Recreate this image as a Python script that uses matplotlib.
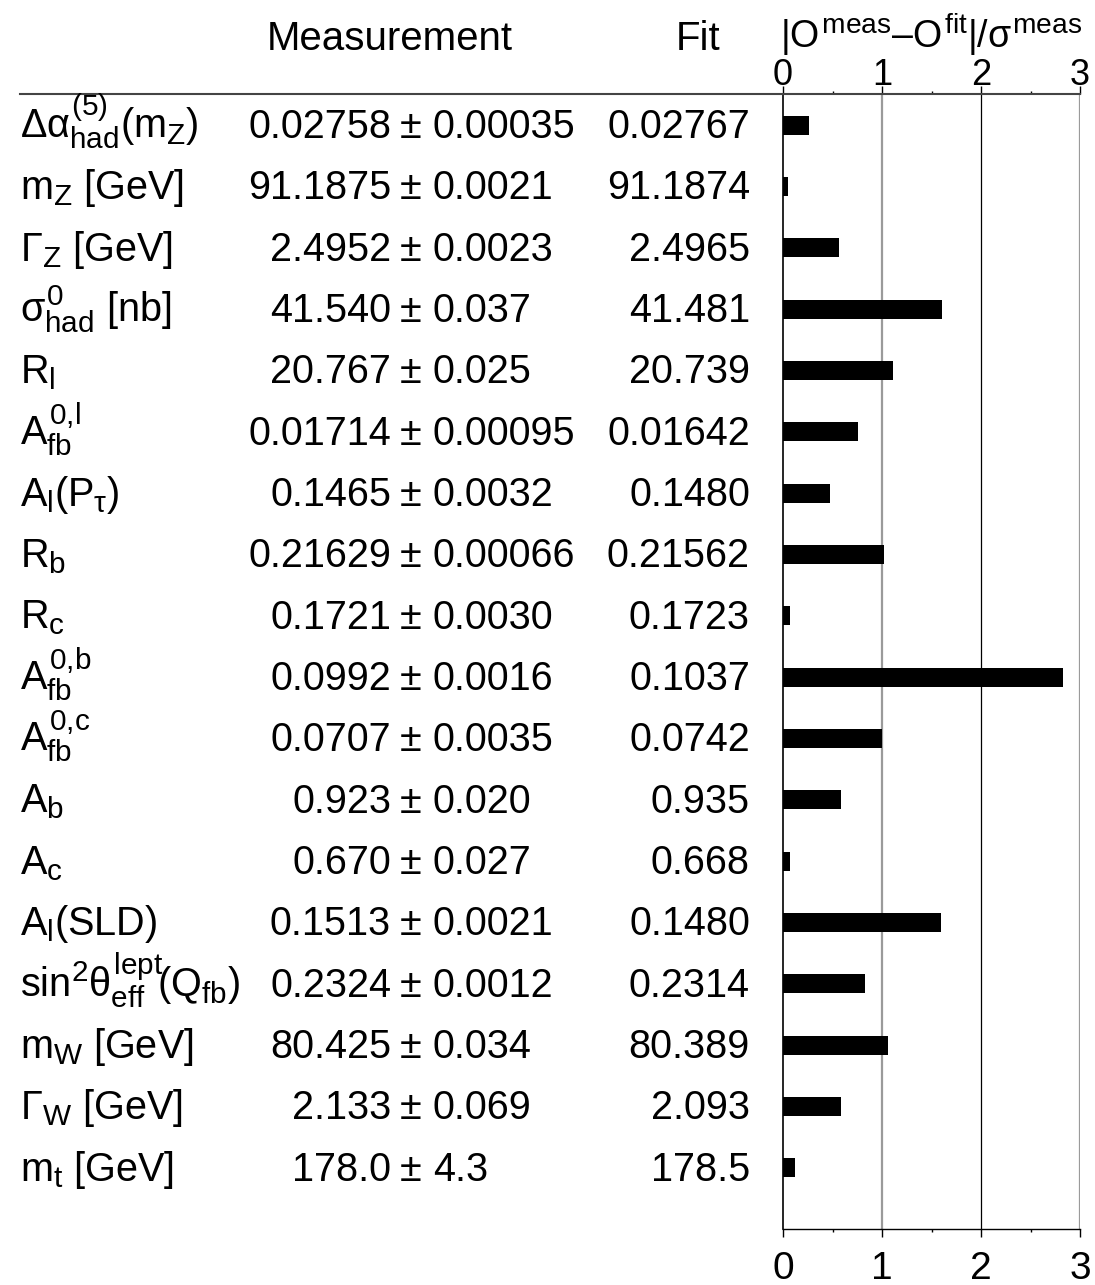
import matplotlib
matplotlib.use("Agg")
import matplotlib.pyplot as plt
import matplotlib.transforms as mtransforms
from matplotlib.lines import Line2D
import matplotlib._mathtext as mt

plt.rcParams['font.family'] = ['Liberation Sans', 'DejaVu Sans']
plt.rcParams['mathtext.fontset'] = 'custom'
plt.rcParams['mathtext.rm'] = 'Liberation Sans'
plt.rcParams['mathtext.it'] = 'Liberation Sans'
plt.rcParams['mathtext.bf'] = 'Liberation Sans:bold'
plt.rcParams['mathtext.sf'] = 'Liberation Sans'
# slightly bigger sub/superscripts, closer to the original typesetting
mt.SHRINK_FACTOR = 0.75

# observables of the electroweak fit
labels = [
    r'$\Delta\alpha^{(5)}_{\mathrm{had}}(m_Z)$',
    r'$m_Z$ [GeV]',
    r'$\Gamma_Z$ [GeV]',
    r'$\sigma^0_{\mathrm{had}}$ [nb]',
    r'$R_l$',
    r'$A^{0,\!l}_{\mathrm{fb}}$',
    r'$A_l(P_\tau)$',
    r'$R_b$',
    r'$R_c$',
    r'$A^{0,\!b}_{\mathrm{fb}}$',
    r'$A^{0,\!c}_{\mathrm{fb}}$',
    r'$A_b$',
    r'$A_c$',
    r'$A_l$(SLD)',
    r'$\mathrm{sin}^2\theta^{\mathrm{lept}}_{\mathrm{eff}}\!(Q_{\mathrm{fb}})$',
    r'$m_W$ [GeV]',
    r'$\Gamma_W$ [GeV]',
    r'$m_t$ [GeV]',
]
meas_val = ["0.02758", "91.1875", "2.4952", "41.540", "20.767", "0.01714",
            "0.1465", "0.21629", "0.1721", "0.0992", "0.0707", "0.923",
            "0.670", "0.1513", "0.2324", "80.425", "2.133", "178.0"]
meas_err = ["0.00035", "0.0021", "0.0023", "0.037", "0.025", "0.00095",
            "0.0032", "0.00066", "0.0030", "0.0016", "0.0035", "0.020",
            "0.027", "0.0021", "0.0012", "0.034", "0.069", "4.3"]
fit_val = ["0.02767", "91.1874", "2.4965", "41.481", "20.739", "0.01642",
           "0.1480", "0.21562", "0.1723", "0.1037", "0.0742", "0.935",
           "0.668", "0.1480", "0.2314", "80.389", "2.093", "178.5"]
pulls = [0.26, 0.05, 0.57, 1.61, 1.11, 0.76, 0.47, 1.02, 0.07, 2.83,
         1.00, 0.59, 0.07, 1.60, 0.83, 1.06, 0.59, 0.12]

W, H = 1095, 1285
fig = plt.figure(figsize=(W / 100, H / 100), dpi=100)

ax_l, ax_r, ax_t, ax_b = 783, 1080, 94, 1229
ax = fig.add_axes([ax_l / W, 1 - ax_b / H, (ax_r - ax_l) / W, (ax_b - ax_t) / H])

rows = list(range(1, len(labels) + 1))
ax.barh(rows, pulls, height=0.31, color='black', edgecolor='none', zorder=3)
ax.set_xlim(0, 3)
ax.set_ylim(19.0, 0.49)
ax.set_yticks([])

for xv, col, lw in [(1, '#9a9a9a', 1.6), (2, 'black', 0.9), (3, '#9a9a9a', 1.6)]:
    ax.axvline(xv, color=col, lw=lw, zorder=1)

ax.spines['right'].set_visible(False)
ax.spines['top'].set_visible(False)
ax.spines['left'].set_linewidth(1.2)
ax.spines['bottom'].set_linewidth(1.0)

ax.set_xticks([0, 1, 2, 3])
ax.set_xticks([0.5, 1.5, 2.5], minor=True)
ax.tick_params(axis='x', which='major', length=6, width=1.0, pad=10,
               labelsize=28, direction='out')
ax.tick_params(axis='x', which='minor', length=2.5, width=1.0, direction='out')

sec = ax.secondary_xaxis('top')
sec.set_xticks([0, 1, 2, 3])
sec.set_xticks([0.5, 1.5, 2.5], minor=True)
sec.tick_params(axis='x', which='major', length=6, width=1.0, pad=-5,
                labelsize=26, direction='out')
sec.tick_params(axis='x', which='minor', length=2.5, width=1.0, direction='out')
sec.spines['top'].set_visible(False)

# long rule across the header
fig.add_artist(Line2D([20 / W, ax_r / W], [1 - ax_t / H, 1 - ax_t / H],
                      color='#444444', lw=1.5, transform=fig.transFigure))

trans = mtransforms.blended_transform_factory(fig.transFigure, ax.transData)
fs = 28.5
for i, r in enumerate(rows):
    yb = r + 0.21
    fig.text(20 / W, yb, labels[i], transform=trans, fontsize=fs,
             ha='left', va='baseline')
    fig.text(391 / W, yb, meas_val[i], transform=trans, fontsize=fs,
             ha='right', va='baseline')
    fig.text(411 / W, yb, '\u00b1', transform=trans, fontsize=fs,
             ha='center', va='baseline')
    fig.text(433 / W, yb, meas_err[i], transform=trans, fontsize=fs,
             ha='left', va='baseline')
    fig.text(750 / W, yb, fit_val[i], transform=trans, fontsize=fs,
             ha='right', va='baseline')

fig.text(390 / W, 1 - 50 / H, 'Measurement', fontsize=29, ha='center', va='baseline')
fig.text(698 / W, 1 - 50 / H, 'Fit', fontsize=29, ha='center', va='baseline')
fig.text(931 / W, 1 - 48 / H,
         r'$|O^{\mathrm{meas}}$' + '\u2013' + r'$O^{\mathrm{fit}}|/\sigma^{\mathrm{meas}}$',
         fontsize=27, ha='center', va='baseline')

fig.savefig('out.png', dpi=100)
